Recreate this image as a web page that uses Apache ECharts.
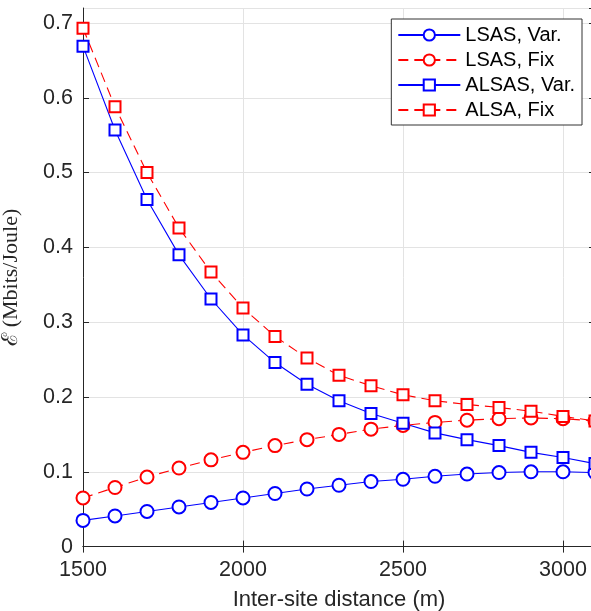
<!DOCTYPE html>
<html>
<head>
<meta charset="utf-8">
<script src="https://cdn.jsdelivr.net/npm/echarts@6/dist/echarts.min.js"></script>
<style>
  html, body { margin: 0; padding: 0; background: #fff; }
  #main { width: 591px; height: 611px; }
</style>
</head>
<body>
<div id="main"></div>
<script>
  // inter-site distance (m)
  var distances = [1500, 1600, 1700, 1800, 1900, 2000, 2100, 2200, 2300, 2400, 2500, 2600, 2700, 2800, 2900, 3000, 3100];
  var lsasVar = [0.035, 0.041, 0.047, 0.053, 0.059, 0.065, 0.071, 0.077, 0.082, 0.087, 0.090, 0.094, 0.097, 0.099, 0.100, 0.100, 0.099];
  var lsasFix = [0.065, 0.079, 0.093, 0.105, 0.116, 0.126, 0.135, 0.143, 0.150, 0.157, 0.162, 0.166, 0.169, 0.171, 0.172, 0.171, 0.168];
  var alsasVar = [0.669, 0.557, 0.464, 0.390, 0.331, 0.283, 0.246, 0.217, 0.195, 0.178, 0.165, 0.152, 0.143, 0.135, 0.126, 0.119, 0.111];
  var alsaFix = [0.693, 0.588, 0.500, 0.426, 0.367, 0.319, 0.281, 0.252, 0.229, 0.215, 0.203, 0.195, 0.190, 0.186, 0.181, 0.174, 0.168];
  var seriesNames = ['LSAS, Var.', 'LSAS, Fix', 'ALSAS, Var.', 'ALSA, Fix'];
  var xTicks = [1500, 2000, 2500, 3000];
  var yTicks = [0, 0.1, 0.2, 0.3, 0.4, 0.5, 0.6, 0.7];

  function pairs(vals) {
    return distances.map(function (d, i) { return [d, vals[i]]; });
  }

  var axisCol = '#262626';
  var chart = echarts.init(document.getElementById('main'));

  function mkSeries(name, vals, color, dashed, symbol, size) {
    return {
      name: name,
      type: 'line',
      data: pairs(vals),
      symbol: symbol,
      symbolSize: size,
      showAllSymbol: true,
      clip: false,
      lineStyle: { color: color, width: 1.1, type: dashed ? [10, 6] : 'solid' },
      itemStyle: { color: color, borderColor: color, borderWidth: 1.2 },
      emphasis: { disabled: true }
    };
  }

  var option = {
    animation: false,
    backgroundColor: '#fff',
    grid: { left: 83, top: 8, width: 512, height: 538.6, outerBoundsMode: 'none', containLabel: false },
    legend: {
      orient: 'vertical',
      right: 9,
      top: 19,
      backgroundColor: '#fff',
      borderColor: '#333',
      borderWidth: 1,
      borderRadius: 0,
      padding: [6, 7, 5, 6],
      itemWidth: 62,
      itemHeight: 14,
      itemGap: 5,
      data: seriesNames,
      textStyle: { fontFamily: 'Liberation Sans', fontSize: 20, color: '#000', lineHeight: 20, padding: [0, 0, 0, 0] }
    },
    xAxis: [{
      type: 'value',
      min: 1500, max: 3100, interval: 500,
      name: 'Inter-site distance (m)',
      nameLocation: 'middle',
      nameGap: 42,
      nameTextStyle: { fontFamily: 'Liberation Sans', fontSize: 22, color: axisCol },
      axisLine: { show: true, lineStyle: { color: axisCol, width: 1 } },
      axisTick: { show: true, inside: true, length: 6, lineStyle: { color: axisCol } },
      axisLabel: {
        fontFamily: 'Liberation Sans', fontSize: 21.5, color: axisCol, margin: 12,
        showMaxLabel: false,
        formatter: function (v) { return xTicks.indexOf(v) >= 0 ? String(v) : ''; }
      },
      splitLine: { show: true, lineStyle: { color: '#e3e3e3', width: 1 } }
    }, {
      type: 'value',
      position: 'top',
      min: 1500, max: 3100, interval: 500,
      axisLine: { show: true, lineStyle: { color: axisCol, width: 1 } },
      axisTick: { show: true, inside: true, length: 6, lineStyle: { color: axisCol } },
      axisLabel: { show: false },
      splitLine: { show: false }
    }],
    yAxis: [{
      type: 'value',
      min: 0, max: 0.72, interval: 0.1,
      name: 'ℰ (Mbits/Joule)',
      nameLocation: 'middle',
      nameGap: 61,
      nameTextStyle: { fontFamily: 'Liberation Serif', fontSize: 22, color: axisCol },
      axisLine: { show: true, lineStyle: { color: axisCol, width: 1 } },
      axisTick: { show: true, inside: true, length: 6, lineStyle: { color: axisCol } },
      axisLabel: {
        fontFamily: 'Liberation Sans', fontSize: 21.5, color: axisCol, margin: 10,
        showMaxLabel: false,
        formatter: function (v) {
          var r = Math.round(v * 10) / 10;
          return yTicks.indexOf(r) >= 0 && Math.abs(r - v) < 1e-6 ? String(r) : '';
        }
      },
      splitLine: { show: true, lineStyle: { color: '#e3e3e3', width: 1 } }
    }, {
      type: 'value',
      position: 'right',
      min: 0, max: 0.72, interval: 0.1,
      axisLine: { show: true, lineStyle: { color: axisCol, width: 1 } },
      axisTick: { show: true, inside: true, length: 6, lineStyle: { color: axisCol } },
      axisLabel: { show: false },
      splitLine: { show: false }
    }],
    series: [
      mkSeries(seriesNames[0], lsasVar, '#0000ff', false, 'emptyCircle', 13),
      mkSeries(seriesNames[1], lsasFix, '#ff0000', true, 'emptyCircle', 13),
      mkSeries(seriesNames[2], alsasVar, '#0000ff', false, 'emptyRect', 11),
      mkSeries(seriesNames[3], alsaFix, '#ff0000', true, 'emptyRect', 11)
    ]
  };
  chart.setOption(option);
</script>
</body>
</html>
